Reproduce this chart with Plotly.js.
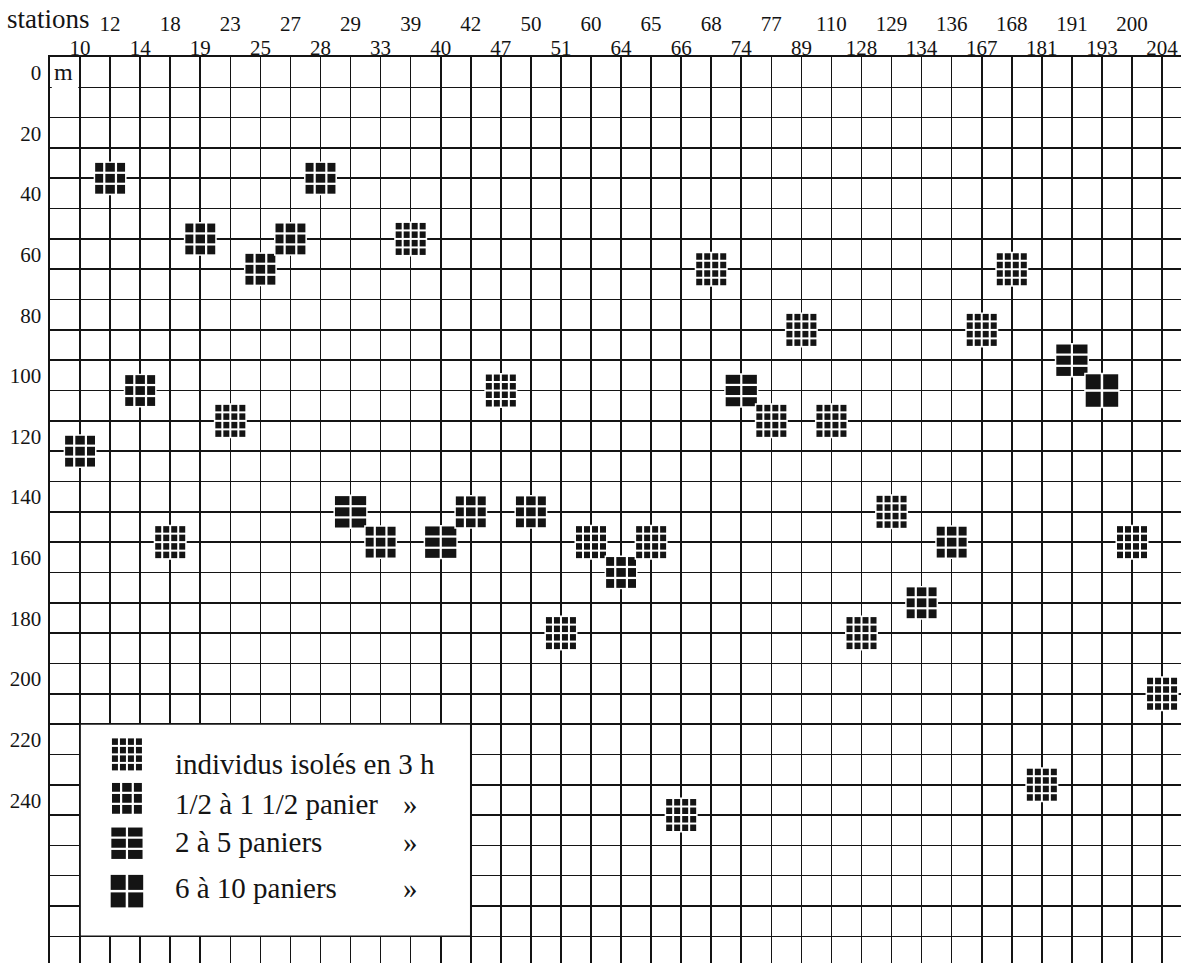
<!DOCTYPE html>
<html>
<head>
<meta charset="utf-8">
<script src="https://cdn.plot.ly/plotly-3.0.1.min.js"></script>
<style>html,body{margin:0;padding:0;background:#fff;}#chart{width:1181px;height:963px;}</style>
</head>
<body>
<div id="chart"></div>
<script>
// ---- data ----
const stations = [10,12,14,18,19,23,25,27,28,29,33,39,40,42,47,50,51,60,64,65,66,68,74,77,89,110,128,129,134,136,167,168,181,191,193,200,204];
const depths   = [120,30,100,150,50,110,60,50,30,140,150,50,150,140,100,140,180,150,160,150,240,60,100,110,80,110,180,140,170,150,80,60,230,90,100,150,200];
const classes  = [2,2,2,1,2,1,2,2,2,3,2,1,3,2,1,2,1,1,2,1,1,1,3,1,1,1,1,1,2,2,1,1,1,3,4,1,1];
const classLabels = ["individus isolés en 3 h", "1/2 à 1 1/2 panier", "2 à 5 paniers", "6 à 10 paniers"];
const classSuffix = ["", "»", "»", "»"];
const depthTicks = [0,20,40,60,80,100,120,140,160,180,200,220,240];

// ---- styling ----
const INK = '#141414';
const SERIF = 'Liberation Serif, Times New Roman, serif';
const GLYPHS = {
  1: {cols:[6,6,6,6], rows:[6.5,6.5,6.5,6.5], gap:2},
  2: {cols:[8,9.5,8], rows:[8.8,8.8,8.8], gap:2.2},
  3: {cols:[14.5,14.5], rows:[9,9,9], gap:2.2},
  4: {cols:[15,15], rows:[15,15], gap:2.5}
};

function glyphShapes(type, xa, ya, xref, yref, withBg) {
  const g = GLYPHS[type];
  const W = g.cols.reduce((a,b)=>a+b,0) + g.gap*(g.cols.length-1);
  const H = g.rows.reduce((a,b)=>a+b,0) + g.gap*(g.rows.length-1);
  const out = [];
  const base = {type:'rect', xref:xref, yref:yref, xsizemode:'pixel', ysizemode:'pixel',
                xanchor:xa, yanchor:ya, layer:'above', line:{width:0, color:'rgba(0,0,0,0)'}};
  if (withBg) {
    out.push(Object.assign({}, base, {x0:-W/2-1.5, x1:W/2+1.5, y0:-H/2-1.5, y1:H/2+1.5, fillcolor:'#fff'}));
  }
  let yy = H/2;
  g.rows.forEach(rh => {
    let xx = -W/2;
    g.cols.forEach(cw => {
      out.push(Object.assign({}, base, {x0:xx, x1:xx+cw, y0:yy-rh, y1:yy, fillcolor:INK}));
      xx += cw + g.gap;
    });
    yy -= rh + g.gap;
  });
  return out;
}

const idx = stations.map((s,i)=>i);
const traces = [];
[1,2,3,4].forEach(c => {
  const sel = idx.filter(i => classes[i] === c);
  traces.push({
    type:'scatter', mode:'markers', name: classLabels[c-1],
    x: sel, y: sel.map(i=>depths[i]),
    text: sel.map(i=>'station '+stations[i]),
    marker:{size:30, symbol:'square', opacity:0},
    hovertemplate:'%{text}<br>%{y} m<extra>'+classLabels[c-1]+'</extra>',
    showlegend:false
  });
});
// carrier for the second (upper row) label axis
traces.push({type:'scatter', mode:'markers', x:[0], y:[0], xaxis:'x2', yaxis:'y',
             marker:{opacity:0}, hoverinfo:'skip', showlegend:false});

const shapes = [];
// blank the 0 m line inside the "m" cell
shapes.push({type:'rect', xref:'x', yref:'y', x0:-0.94, x1:-0.06, y0:-1.5, y1:1.5,
             fillcolor:'#fff', line:{width:0}, layer:'above'});
// legend box
shapes.push({type:'rect', xref:'x', yref:'y', x0:0, x1:13, y0:210, y1:280,
             fillcolor:'#fff', line:{color:INK, width:1.6}, layer:'above'});
// legend glyphs
const legendGlyphY = [220.0, 234.5, 249.3, 265.1];
const legendTextY  = [223.3, 236.5, 249.0, 263.9];
[1,2,3,4].forEach((c,k) => {
  glyphShapes(c, 1.56, legendGlyphY[k], 'x', 'y', false).forEach(s=>shapes.push(s));
});
// data glyphs
idx.forEach(i => {
  glyphShapes(classes[i], i, depths[i], 'x', 'y', true).forEach(s=>shapes.push(s));
});

const annotations = [];
annotations.push({xref:'paper', yref:'paper', x:-50/1131+0.004, y:1+38/906, xanchor:'left', yanchor:'middle',
                  text:'stations', showarrow:false, font:{family:SERIF, size:27, color:INK}});
annotations.push({xref:'x', yref:'y', x:-0.55, y:-0.2, xanchor:'center', yanchor:'bottom',
                  text:'m', showarrow:false, font:{family:SERIF, size:24, color:INK}});
classLabels.forEach((t,k) => {
  annotations.push({xref:'x', yref:'y', x:3.09, y:legendTextY[k], xanchor:'left', yanchor:'middle',
                    text:t, showarrow:false, font:{family:SERIF, size:29, color:INK}});
  if (classSuffix[k]) {
    annotations.push({xref:'x', yref:'y', x:10.98, y:legendTextY[k], xanchor:'center', yanchor:'middle',
                      text:classSuffix[k], showarrow:false, font:{family:SERIF, size:29, color:INK}});
  }
});

const xRange = [-1, 36.63];
const tickFont = {family:SERIF, size:21, color:INK};
const layout = {
  width:1181, height:963,
  margin:{l:50, r:0, t:57, b:0, pad:0},
  paper_bgcolor:'#fff', plot_bgcolor:'#fff',
  showlegend:false,
  xaxis:{
    range:xRange, side:'top', anchor:'y',
    tickmode:'array', tickvals:idx, ticktext:idx.map(i => i%2===0 ? String(stations[i]) : ''),
    showgrid:true, gridcolor:INK, gridwidth:1.6, zeroline:false,
    showline:true, linecolor:INK, linewidth:1.6, ticks:'', tickfont:tickFont, ticklabelstandoff:-8,
    fixedrange:true
  },
  xaxis2:{
    range:xRange, side:'top', anchor:'y', overlaying:'x',
    tickmode:'array', tickvals:idx.filter(i=>i%2===1), ticktext:idx.filter(i=>i%2===1).map(i=>String(stations[i])),
    showgrid:false, zeroline:false, showline:false, ticks:'', tickfont:tickFont, ticklabelstandoff:21,
    fixedrange:true
  },
  yaxis:{
    range:[288.8, -10],
    tickmode:'array', tickvals:depthTicks, ticktext:depthTicks.map(String),
    ticklabelposition:'outside top',
    showgrid:true, gridcolor:INK, gridwidth:1.6, zeroline:false,
    minor:{tick0:0, dtick:10, showgrid:true, gridcolor:INK, gridwidth:1.6, ticks:''},
    showline:true, linecolor:INK, linewidth:1.6, ticks:'', tickfont:tickFont, ticklabelstandoff:3,
    fixedrange:true
  },
  shapes:shapes,
  annotations:annotations
};

Plotly.newPlot('chart', traces, layout, {displayModeBar:false, staticPlot:true});
</script>
</body>
</html>
